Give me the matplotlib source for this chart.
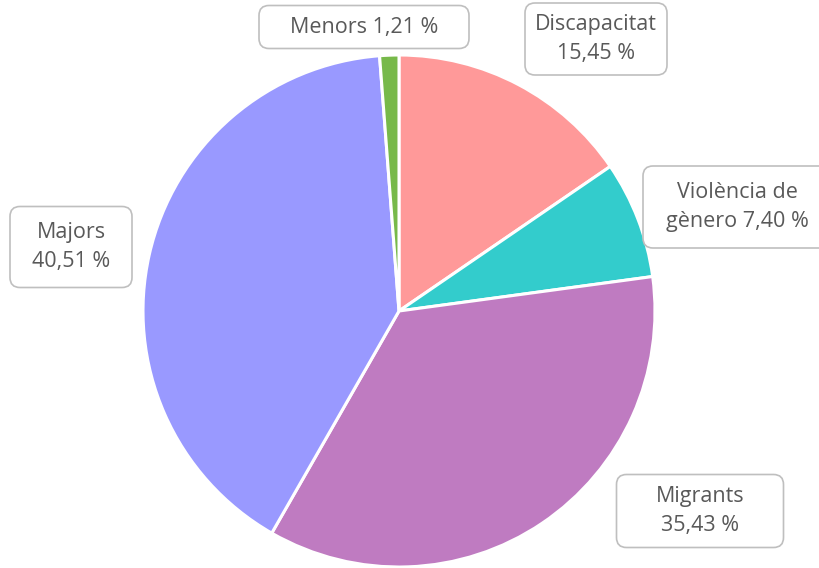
import matplotlib.pyplot as plt
from matplotlib.patches import FancyBboxPatch

# dades
etiquetes = ['Discapacitat', 'Violència de\ngènero', 'Migrants', 'Majors', 'Menors']
valors = [15.45, 7.40, 35.43, 40.51, 1.21]
colors = ['#FF9999', '#33CCCC', '#BF7BC1', '#9999FF', '#77B94A']
textos = ['Discapacitat\n15,45 %', 'Violència de\ngènero 7,40 %', 'Migrants\n35,43 %',
          'Majors\n40,51 %', 'Menors 1,21 %']

# centre i mida de cada caixa d'etiqueta (píxels, origen a dalt a l'esquerra)
pos_etiquetes = [(596, 39), (737, 207), (700, 511), (71, 247), (364, 27)]
mida_caixes = [(142, 72), (188, 82), (167, 73), (122, 81), (210, 43)]

W, H = 819, 568
fig = plt.figure(figsize=(W / 100, H / 100), dpi=100)
ax = fig.add_axes([0, 0, 1, 1])

ax.pie(valors, colors=colors, startangle=90, counterclock=False,
       center=(399, H - 311), radius=256,
       wedgeprops=dict(edgecolor='white', linewidth=2.2))

ax.set_xlim(0, W)
ax.set_ylim(0, H)
ax.set_aspect('equal')
ax.axis('off')

for t, (px, py), (bw, bh) in zip(textos, pos_etiquetes, mida_caixes):
    caixa = FancyBboxPatch((px - bw / 2, H - py - bh / 2), bw, bh,
                           boxstyle='round,pad=0,rounding_size=10',
                           fc='white', ec='#BFBFBF', lw=1.2, zorder=3)
    ax.add_patch(caixa)
    ax.text(px, H - py, t, ha='center', va='center', fontsize=15.5,
            family='Open Sans', color='#595959', linespacing=1.5, zorder=4)

fig.savefig('out.png', dpi=100)
